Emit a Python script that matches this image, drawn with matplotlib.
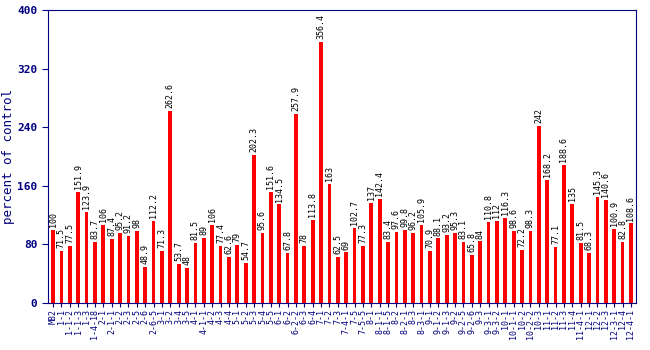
import matplotlib
matplotlib.use("Agg")
import matplotlib.pyplot as plt
import numpy as np

labels = ["M82",
    "1-1", "1-1-2", "1-1-3", "1-3", "1-4-18",
    "2-1", "2-1-1", "2-2", "2-3", "2-5", "2-6", "2-6-5",
    "3-1", "3-2", "3-4", "3-5",
    "4-1", "4-1-1", "4-2", "4-3", "4-4",
    "5-1", "5-2", "5-3", "5-4", "5-5",
    "6-1", "6-2", "6-2-2", "6-3", "6-4",
    "7-1", "7-2", "7-3", "7-4-1", "7-5", "7-5-5",
    "8-1", "8-1-1", "8-1-5", "8-2", "8-2-1", "8-3", "8-3-1",
    "9-1", "9-1-2", "9-1-3", "9-2", "9-2-5", "9-2-6", "9-3", "9-3-1", "9-3-2",
    "10-1", "10-1-1", "10-2", "10-2-2", "10-3",
    "11-1", "11-2", "11-3", "11-4", "11-4-1",
    "12-1", "12-2", "12-3", "12-3-1", "12-4", "12-4-1"]

values = [100, 71.5, 77.5, 151.9, 123.9, 83.7, 106, 87.4, 95.2, 91.2,
          98, 48.9, 112.2, 71.3, 262.6, 53.7, 48, 81.5, 89, 106,
          77.4, 62.6, 79, 54.7, 202.3, 95.6, 151.6, 134.5, 67.8, 257.9,
          78, 113.8, 356.4, 163, 62.5, 69, 102.7, 77.3, 137, 142.4,
          83.4, 97.6, 99.8, 96.2, 105.9, 70.9, 88.1, 93.2, 95.3, 83.1,
          65.8, 84, 110.8, 112, 116.3, 98.6, 72.2, 98.3, 242, 168.2,
          77.1, 188.6, 135, 81.5, 68.3, 145.3, 140.6, 100.9, 82.8, 108.6]

yticks = [0, 80, 160, 240, 320, 400]

navy = "#000080"
fig = plt.figure(figsize=(6.5, 3.5), dpi=100)
ax = fig.add_axes([48/650, 1-303/350, (636-48)/650, (303-10)/350])

x = np.arange(len(values))
ax.bar(x, values, width=0.45, color="#ff0000", zorder=2)
for xi, v in zip(x, values):
    ax.text(xi, v + 4, f"{v:g}", rotation=90, ha="center", va="bottom",
            fontsize=6, family="DejaVu Sans Mono", color="black")

ax.set_xlim(-0.6, len(values) - 0.4)
ax.set_ylim(0, 400)
ax.set_yticks(yticks)
ax.set_yticklabels([str(t) for t in yticks], fontsize=8, family="DejaVu Sans Mono",
                   fontweight="bold", color=navy)
ax.set_xticks(x)
ax.set_xticklabels(labels, rotation=90, fontsize=6, family="DejaVu Sans Mono", color=navy)
ax.tick_params(axis="x", length=3, color=navy, pad=1)
ax.tick_params(axis="y", length=4, color=navy)
for s in ax.spines.values():
    s.set_color(navy)
ax.set_ylabel("percent of control", fontsize=9, family="DejaVu Sans Mono", color=navy,
              labelpad=2)

fig.savefig("out.png", dpi=100)
